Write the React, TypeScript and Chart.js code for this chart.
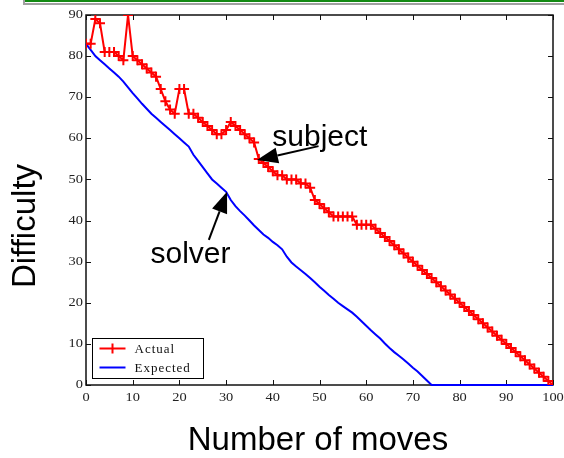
import { useEffect, useRef } from 'react';
import { Chart, registerables } from 'chart.js';

Chart.register(...registerables);

// ---- data ----
const actualValues = [
  83, 83, 89, 88, 81, 81, 81, 80, 79, 90,
  80, 79, 78, 77, 76, 75, 72, 69, 67, 66,
  72, 72, 66, 66, 65, 64, 63, 62, 61, 61,
  62, 64, 63, 62, 61, 60, 59, 55, 54, 53,
  52, 51, 51, 50, 50, 50, 49, 49, 48, 45,
  44, 43, 42, 41, 41, 41, 41, 41, 39, 39,
  39, 39, 38, 37, 36, 35, 34, 33, 32, 31,
  30, 29, 28, 27, 26, 25, 24, 23, 22, 21,
  20, 19, 18, 17, 16, 15, 14, 13, 12, 11,
  10, 9, 8, 7, 6, 5, 4, 3, 2, 1,
  0,
];

const expectedValues = [
  83, 81.5, 80, 79, 78, 77, 76, 75, 73.8, 72.4,
  71, 69.7, 68.4, 67.2, 66, 65, 64, 63, 62, 61,
  60, 59, 58, 56, 54.5, 53, 51.5, 50, 49, 48,
  47, 45, 43.5, 42.3, 41.2, 40, 38.8, 37.7, 36.6, 35.8,
  34.8, 34, 33, 31.2, 29.8, 28.8, 27.9, 27, 26, 25,
  23.9, 22.9, 21.9, 21, 20, 19.2, 18.4, 17.6, 16.6, 15.5,
  14.4, 13.3, 12.3, 11.3, 10.1, 9, 8, 7.1, 6.2, 5.2,
  4.2, 3.3, 2.2, 1.1, 0, 0, 0, 0, 0, 0,
  0, 0, 0, 0, 0, 0, 0, 0, 0, 0,
  0, 0, 0, 0, 0, 0, 0, 0, 0, 0,
  0,
];

const xTicks = [0, 10, 20, 30, 40, 50, 60, 70, 80, 90, 100];
const yTicks = [0, 10, 20, 30, 40, 50, 60, 70, 80, 90];

const seriesNames = ['Actual', 'Expected'];
const xTitle = 'Number of moves';
const yTitle = 'Difficulty';

// annotations in data coordinates
const subjectNote = { text: 'subject', tx: 39.9, ty: 58.2, fromX: 49.8, fromY: 58.1, toX: 36.6, toY: 54.7 };
const solverNote = { text: 'solver', tx: 13.8, ty: 29.7, fromX: 26.3, fromY: 35.3, toX: 30.2, toY: 47 };

function drawArrow(ctx: CanvasRenderingContext2D, x1: number, y1: number, x2: number, y2: number, headLen: number, headHalf: number) {
  const ang = Math.atan2(y2 - y1, x2 - x1);
  const c = Math.cos(ang), s = Math.sin(ang);
  const bx = x2 - headLen * c, by = y2 - headLen * s;
  ctx.save();
  ctx.strokeStyle = '#000';
  ctx.fillStyle = '#000';
  ctx.lineWidth = 2;
  ctx.beginPath();
  ctx.moveTo(x1, y1);
  ctx.lineTo(bx, by);
  ctx.stroke();
  ctx.beginPath();
  ctx.moveTo(x2, y2);
  ctx.lineTo(bx - headHalf * s, by + headHalf * c);
  ctx.lineTo(bx + headHalf * s, by - headHalf * c);
  ctx.closePath();
  ctx.fill();
  ctx.restore();
}

function stretchedText(ctx: CanvasRenderingContext2D, text: string, x: number, y: number, align: CanvasTextAlign, sx: number) {
  ctx.save();
  ctx.translate(x, y);
  ctx.scale(sx, 1);
  ctx.textAlign = align;
  ctx.fillText(text, 0, 0);
  ctx.restore();
}

const framePlugin = {
  id: 'matlabFrame',
  beforeDraw(chart: any) {
    const ctx: CanvasRenderingContext2D = chart.ctx;
    ctx.save();
    ctx.fillStyle = '#fff';
    ctx.fillRect(0, 0, chart.width, chart.height);
    // top window remnant
    ctx.fillStyle = '#138a13';
    ctx.fillRect(25, 0, chart.width - 25, 2);
    ctx.fillStyle = '#a0a0a0';
    ctx.fillRect(25, 3, chart.width - 25, 2);
    ctx.fillRect(23, 0, 2, 5);
    ctx.restore();
  },
  beforeDatasetsDraw(chart: any) {
    const ctx: CanvasRenderingContext2D = chart.ctx;
    const { left, right, top, bottom } = chart.chartArea;
    const xs = chart.scales.x, ys = chart.scales.y;
    ctx.save();
    ctx.strokeStyle = '#111';
    ctx.lineWidth = 1.5;
    ctx.strokeRect(left, top, right - left, bottom - top);
    ctx.lineWidth = 1;
    ctx.beginPath();
    xTicks.forEach((v) => {
      const px = Math.round(xs.getPixelForValue(v)) + 0.5;
      ctx.moveTo(px, bottom); ctx.lineTo(px, bottom - 5);
      ctx.moveTo(px, top); ctx.lineTo(px, top + 5);
    });
    yTicks.forEach((v) => {
      const py = Math.round(ys.getPixelForValue(v)) + 0.5;
      ctx.moveTo(left, py); ctx.lineTo(left + 5, py);
      ctx.moveTo(right, py); ctx.lineTo(right - 5, py);
    });
    ctx.stroke();
    ctx.fillStyle = '#222';
    ctx.font = "12px 'Liberation Serif'";
    ctx.textBaseline = 'middle';
    yTicks.forEach((v) => {
      stretchedText(ctx, String(v), left - 3, ys.getPixelForValue(v), 'right', 1.2);
    });
    xTicks.forEach((v) => {
      stretchedText(ctx, String(v), xs.getPixelForValue(v), bottom + 13, 'center', 1.2);
    });
    ctx.restore();
  },
  afterDatasetsDraw(chart: any) {
    const ctx: CanvasRenderingContext2D = chart.ctx;
    const xs = chart.scales.x, ys = chart.scales.y;
    const { left, bottom } = chart.chartArea;
    ctx.save();
    // legend
    const lx = left + 6.5, ly = bottom - 46.5, lw = 111, lh = 40;
    ctx.fillStyle = '#fff';
    ctx.fillRect(lx, ly, lw, lh);
    ctx.strokeStyle = '#000';
    ctx.lineWidth = 1;
    ctx.strokeRect(lx, ly, lw, lh);
    const row1 = ly + 10, row2 = ly + 29;
    ctx.lineWidth = 2;
    ctx.strokeStyle = '#ff0000';
    ctx.beginPath();
    ctx.moveTo(lx + 7, row1); ctx.lineTo(lx + 33, row1);
    ctx.moveTo(lx + 20, row1 - 5); ctx.lineTo(lx + 20, row1 + 5);
    ctx.stroke();
    ctx.strokeStyle = '#0000ff';
    ctx.beginPath();
    ctx.moveTo(lx + 7, row2); ctx.lineTo(lx + 33, row2);
    ctx.stroke();
    ctx.fillStyle = '#111';
    ctx.font = "13px 'Liberation Serif'";
    ctx.textBaseline = 'middle';
    ctx.textAlign = 'left';
    (ctx as any).letterSpacing = '1px';
    ctx.fillText(seriesNames[0], lx + 42, row1 + 1);
    ctx.fillText(seriesNames[1], lx + 42, row2 + 1);
    (ctx as any).letterSpacing = '0px';

    // annotations
    ctx.fillStyle = '#000';
    ctx.font = "30px 'Liberation Sans'";
    ctx.textBaseline = 'alphabetic';
    [subjectNote, solverNote].forEach((n) => {
      ctx.fillText(n.text, xs.getPixelForValue(n.tx), ys.getPixelForValue(n.ty));
      drawArrow(ctx, xs.getPixelForValue(n.fromX), ys.getPixelForValue(n.fromY),
        xs.getPixelForValue(n.toX), ys.getPixelForValue(n.toY), 21, 8);
    });

    // axis titles
    ctx.font = "33px 'Liberation Sans'";
    ctx.textAlign = 'center';
    ctx.fillText(xTitle, 318, 450);
    ctx.save();
    ctx.translate(26, 226);
    ctx.rotate(-Math.PI / 2);
    ctx.textBaseline = 'middle';
    ctx.fillText(yTitle, 0, 0);
    ctx.restore();
    ctx.restore();
  },
};

export default function App() {
  const ref = useRef<HTMLCanvasElement | null>(null);
  useEffect(() => {
    if (!ref.current) return;
    const chart = new Chart(ref.current, {
      type: 'line',
      data: {
        datasets: [
          {
            label: seriesNames[0],
            data: actualValues.map((v, i) => ({ x: i, y: v })),
            borderColor: '#ff0000',
            backgroundColor: '#ff0000',
            borderWidth: 2,
            pointStyle: 'cross',
            pointRadius: 5,
            pointBorderWidth: 2,
            pointBorderColor: '#ff0000',
            tension: 0,
            fill: false,
          },
          {
            label: seriesNames[1],
            data: expectedValues.map((v, i) => ({ x: i, y: v })),
            borderColor: '#0000ff',
            backgroundColor: '#0000ff',
            borderWidth: 2,
            pointRadius: 0,
            tension: 0,
            fill: false,
            clip: { left: 2, top: 2, right: 2, bottom: 2 } as any,
          },
        ],
      },
      options: {
        animation: false,
        responsive: false,
        events: [],
        layout: { padding: { left: 0, top: 15, right: 11, bottom: 0 } },
        plugins: { legend: { display: false }, tooltip: { enabled: false } },
        scales: {
          x: {
            type: 'linear',
            min: 0,
            max: 100,
            ticks: { display: false, stepSize: 10 },
            grid: { display: false },
            border: { display: false },
            afterFit: (s: any) => { s.height = 73; },
          },
          y: {
            type: 'linear',
            min: 0,
            max: 90,
            ticks: { display: false, stepSize: 10 },
            grid: { display: false },
            border: { display: false },
            afterFit: (s: any) => { s.width = 86; },
          },
        },
      },
      plugins: [framePlugin],
    });
    return () => chart.destroy();
  }, []);
  return (
    <div style={{ position: 'absolute', left: 0, top: 0, width: 564, height: 458 }}>
      <canvas ref={ref} width={564} height={458} style={{ width: 564, height: 458, display: 'block' }} />
    </div>
  );
}
